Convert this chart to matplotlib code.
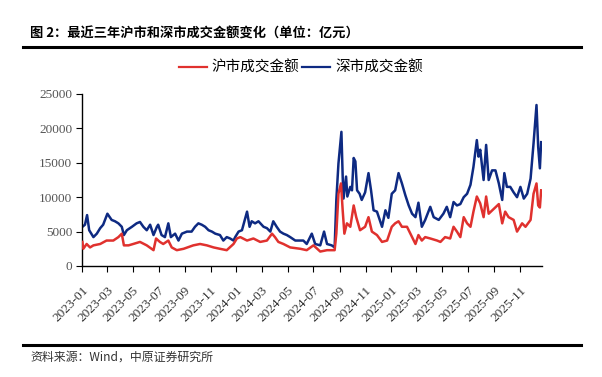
import matplotlib
matplotlib.use("Agg")
import matplotlib.pyplot as plt
import matplotlib.dates as mdates
from matplotlib.lines import Line2D
import pandas as pd

plt.rcParams['font.family'] = ['Noto Sans CJK SC', 'DejaVu Sans']

# ---------------- data (亿元) ----------------
sz_dates = [
    "2023-01-02", "2023-01-08", "2023-01-13", "2023-01-18", "2023-01-28", "2023-02-05", "2023-02-13", "2023-02-20",
    "2023-03-02", "2023-03-12", "2023-03-20", "2023-03-28", "2023-04-05", "2023-04-10", "2023-04-17", "2023-04-29",
    "2023-05-10", "2023-05-18", "2023-05-26", "2023-06-03", "2023-06-11", "2023-06-19", "2023-06-27", "2023-06-30",
    "2023-07-08", "2023-07-16", "2023-07-24", "2023-07-30", "2023-08-09", "2023-08-17", "2023-08-25", "2023-09-06",
    "2023-09-17", "2023-09-25", "2023-10-03", "2023-10-11", "2023-10-19", "2023-10-27", "2023-11-04", "2023-11-12",
    "2023-11-23", "2023-12-01", "2023-12-09", "2023-12-17", "2023-12-25", "2023-12-29", "2024-01-06", "2024-01-14",
    "2024-01-26", "2024-02-01", "2024-02-06", "2024-02-14", "2024-02-22", "2024-03-05", "2024-03-13", "2024-03-21",
    "2024-03-28", "2024-04-05", "2024-04-13", "2024-04-21", "2024-04-29", "2024-05-07", "2024-05-19", "2024-05-31",
    "2024-06-07", "2024-06-15", "2024-06-27", "2024-07-05", "2024-07-17", "2024-07-26", "2024-08-02", "2024-08-13",
    "2024-08-20", "2024-08-24", "2024-08-29", "2024-09-05", "2024-09-08", "2024-09-10", "2024-09-16", "2024-09-19",
    "2024-09-26", "2024-09-30", "2024-10-04", "2024-10-08", "2024-10-12", "2024-10-18", "2024-10-23", "2024-10-31",
    "2024-11-08", "2024-11-14", "2024-11-20", "2024-11-28", "2024-12-10", "2024-12-18", "2024-12-25", "2025-01-02",
    "2025-01-10", "2025-01-18", "2025-01-26", "2025-02-03", "2025-02-11", "2025-02-19", "2025-02-27", "2025-03-06",
    "2025-03-14", "2025-03-22", "2025-04-03", "2025-04-11", "2025-04-23", "2025-05-04", "2025-05-12", "2025-05-20",
    "2025-05-28", "2025-06-05", "2025-06-13", "2025-06-21", "2025-06-29", "2025-07-07", "2025-07-14", "2025-07-22",
    "2025-07-26", "2025-07-30", "2025-08-07", "2025-08-13", "2025-08-19", "2025-08-27", "2025-09-04", "2025-09-12",
    "2025-09-20", "2025-09-25", "2025-10-01", "2025-10-09", "2025-10-17", "2025-10-25", "2025-11-02", "2025-11-10",
    "2025-11-18", "2025-11-26", "2025-12-03", "2025-12-10", "2025-12-14", "2025-12-18", "2025-12-21",
]
sz_values = [
    5700, 6000, 7400, 5200, 4200, 4700, 5500, 6000,
    7600, 6700, 6500, 6200, 5700, 4500, 5200, 5700,
    6200, 6400, 5700, 5200, 6000, 4500, 5700, 6000,
    4500, 4200, 6200, 4200, 4700, 3700, 4700, 5000,
    5000, 5700, 6200, 6000, 5700, 5200, 5000, 4700,
    4500, 3700, 4200, 4000, 3700, 4200, 5000, 5200,
    7900, 5700, 6500, 6200, 6500, 5700, 5500, 5000,
    6500, 5700, 5000, 4700, 4500, 4200, 3700, 3700,
    3700, 3200, 4700, 3200, 3000, 5000, 3200, 3000,
    2700, 9600, 14900, 19500, 13000, 9800, 13000, 10100,
    11500, 11000, 15700, 15200, 11000, 10500, 9600, 10700,
    13500, 11000, 8100, 7900, 5700, 8100, 7000, 10500,
    11000, 13500, 12000, 10300, 8800, 7600, 7100, 9200,
    5700, 6700, 8600, 7100, 6700, 7600, 8600, 7100,
    9300, 8800, 9000, 10000, 10500, 11800, 14400, 18300,
    15900, 16900, 12500, 17600, 12500, 13900, 13900, 12000,
    9600, 13500, 11500, 11500, 10700, 10000, 11500, 9800,
    10500, 12700, 17800, 23400, 17300, 14200, 18000,
]

sh_dates = [
    "2023-01-02", "2023-01-04", "2023-01-12", "2023-01-20", "2023-01-28", "2023-02-13", "2023-02-28", "2023-03-16",
    "2023-03-28", "2023-04-05", "2023-04-10", "2023-04-21", "2023-05-02", "2023-05-18", "2023-06-03", "2023-06-19",
    "2023-06-25", "2023-07-04", "2023-07-12", "2023-07-24", "2023-08-01", "2023-08-13", "2023-08-29", "2023-09-21",
    "2023-10-07", "2023-10-23", "2023-11-08", "2023-11-23", "2023-12-09", "2023-12-25", "2024-01-02", "2024-01-10",
    "2024-01-26", "2024-02-10", "2024-02-26", "2024-03-13", "2024-03-25", "2024-04-01", "2024-04-09", "2024-04-21",
    "2024-05-07", "2024-05-31", "2024-06-15", "2024-07-01", "2024-07-17", "2024-08-02", "2024-08-20", "2024-08-24",
    "2024-08-29", "2024-09-04", "2024-09-08", "2024-09-12", "2024-09-18", "2024-09-26", "2024-10-04", "2024-10-10",
    "2024-10-19", "2024-10-31", "2024-11-08", "2024-11-16", "2024-11-28", "2024-12-10", "2024-12-22", "2025-01-02",
    "2025-01-10", "2025-01-18", "2025-01-26", "2025-02-07", "2025-02-19", "2025-02-27", "2025-03-06", "2025-03-14",
    "2025-03-22", "2025-04-03", "2025-04-19", "2025-04-27", "2025-05-08", "2025-05-20", "2025-05-28", "2025-06-05",
    "2025-06-13", "2025-06-21", "2025-06-29", "2025-07-07", "2025-07-14", "2025-07-22", "2025-07-30", "2025-08-07",
    "2025-08-13", "2025-08-19", "2025-08-31", "2025-09-12", "2025-09-20", "2025-09-27", "2025-10-05", "2025-10-17",
    "2025-10-25", "2025-11-06", "2025-11-14", "2025-11-26", "2025-12-03", "2025-12-10", "2025-12-14", "2025-12-18",
    "2025-12-21",
]
sh_values = [
    3500, 2500, 3200, 2700, 3000, 3200, 3700, 3700,
    4200, 4700, 3000, 3000, 3200, 3500, 3000, 2300,
    4000, 3500, 3200, 3700, 2700, 2300, 2500, 3000,
    3200, 3000, 2700, 2500, 2300, 3200, 4000, 4200,
    3700, 4000, 3500, 3700, 4700, 4200, 3500, 3200,
    2700, 2500, 2300, 3000, 2100, 2300, 2300, 4700,
    10500, 12000, 8100, 4700, 6200, 5700, 8800, 7100,
    5200, 5700, 7100, 5000, 4500, 3500, 3700, 5700,
    6200, 6500, 5700, 5700, 4200, 3200, 4500, 3700,
    4200, 4000, 3700, 3500, 4200, 4000, 5700, 5000,
    4200, 7100, 6200, 5700, 7900, 10100, 9100, 7100,
    10100, 7600, 8300, 9000, 6200, 7900, 7100, 6700,
    5000, 6200, 5700, 6700, 10500, 12000, 8800, 8500,
    11000,
]

series_names = ["沪市成交金额", "深市成交金额"]
y_ticks = [0, 5000, 10000, 15000, 20000, 25000]
x_start, x_end = "2023-01-01", "2025-12-23"

title_text = "图 2：最近三年沪市和深市成交金额变化（单位：亿元）"
source_text = "资料来源：Wind，中原证券研究所"

# ---------------- figure ----------------
W, H = 602, 377
fig = plt.figure(figsize=(W / 100, H / 100), dpi=100)
ax = fig.add_axes([82 / W, 1 - 266 / H, (542 - 82) / W, (266 - 94) / H])

red = "#E0312E"
blue = "#0E2A82"
ax.plot(pd.to_datetime(sh_dates), sh_values, color=red, lw=1.8, label=series_names[0], zorder=3)
ax.plot(pd.to_datetime(sz_dates), sz_values, color=blue, lw=1.8, label=series_names[1], zorder=2)

ax.set_ylim(0, 25000)
ax.set_yticks(y_ticks)
ax.set_xlim(pd.Timestamp(x_start), pd.Timestamp(x_end))
ax.xaxis.set_major_locator(mdates.MonthLocator(bymonth=[1, 3, 5, 7, 9, 11]))
ax.xaxis.set_major_formatter(mdates.DateFormatter("%Y-%m"))

for s in ["top", "right"]:
    ax.spines[s].set_visible(False)
for s in ["left", "bottom"]:
    ax.spines[s].set_linewidth(1.0)
    ax.spines[s].set_color("black")

ax.tick_params(axis="y", direction="out", length=4, width=0.8, pad=3,
               labelsize=9.5, labelcolor="#555555")
ax.tick_params(axis="x", direction="out", length=4, width=0.8, pad=9,
               labelsize=9.6, labelcolor="#333333")
for lbl in ax.get_yticklabels():
    lbl.set_fontfamily("Liberation Serif")
for lbl in ax.get_xticklabels():
    lbl.set_fontfamily("Liberation Serif")
    lbl.set_rotation(45)
    lbl.set_ha("right")
    lbl.set_rotation_mode("anchor")

# legend
handles = [Line2D([], [], color=red, lw=1.6), Line2D([], [], color=blue, lw=1.6)]
fig.legend(handles, series_names, loc="center", bbox_to_anchor=(0.5, 1 - 68 / H),
           ncol=2, frameon=False, fontsize=10.5, handlelength=1.9, handletextpad=0.35,
           columnspacing=0.2)

# title + rules
fig.text(30 / W, 1 - 34 / H, title_text, fontsize=9.5, fontweight="bold", va="center", ha="left")
fig.add_artist(Line2D([23 / W, 581 / W], [1 - 46.5 / H] * 2, color="black", lw=2.2))
fig.add_artist(Line2D([23 / W, 581 / W], [1 - 344.5 / H] * 2, color="black", lw=2.2))
fig.text(30 / W, 1 - 357 / H, source_text, fontsize=8.6, va="center", ha="left", color="#333333")

fig.savefig("out.png", dpi=100)
